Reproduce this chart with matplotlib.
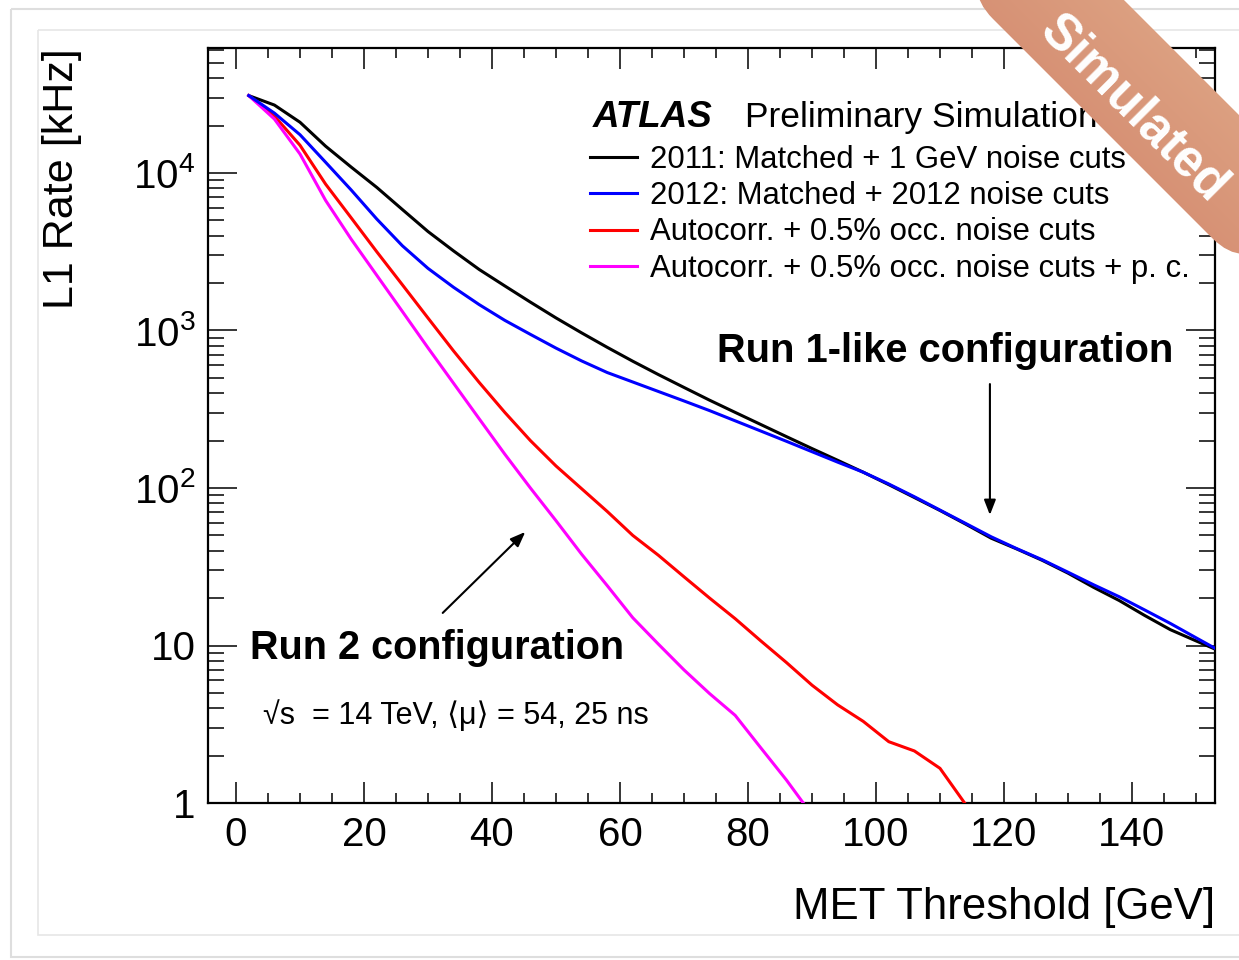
import numpy as np
import matplotlib
matplotlib.use("Agg")
import matplotlib.pyplot as plt
from matplotlib.ticker import FixedLocator, NullFormatter, FuncFormatter, LogLocator
from matplotlib.patches import FancyBboxPatch, Rectangle
from matplotlib.transforms import Affine2D

plt.rcParams['font.family'] = ['Liberation Sans', 'DejaVu Sans']
plt.rcParams['mathtext.fontset'] = 'custom'
plt.rcParams['mathtext.rm'] = 'Liberation Sans'
plt.rcParams['mathtext.it'] = 'Liberation Sans:italic'
plt.rcParams['mathtext.bf'] = 'Liberation Sans:bold'

# ---------------- data ----------------
met = [2, 6, 10, 14, 18, 22, 26, 30, 34, 38, 42, 46, 50, 54, 58, 62, 66, 70, 74, 78,
       82, 86, 90, 94, 98, 102, 106, 110, 114, 118, 122, 126, 130, 134, 138, 142, 146, 150, 154]

rate_2011 = [31000, 27000, 21000, 14800, 10900, 8100, 5860, 4250, 3200, 2440, 1919, 1514,
             1202, 966, 782, 638, 525, 435, 361, 302, 253, 212, 178, 150, 126, 105, 87, 72,
             59, 48, 41, 34.7, 28.8, 23.4, 19.3, 15.5, 12.6, 10.7, 9.1]

rate_2012 = [31000, 24000, 17500, 11700, 7800, 5100, 3450, 2480, 1880, 1460, 1160, 945,
             773, 641, 541, 471, 410, 357, 310, 267, 230, 198, 170, 146, 126, 106, 88, 72.4,
             59.6, 49, 41.2, 35, 29.2, 24.3, 20.4, 16.8, 13.8, 11.2, 9.1]

met_auto = [2, 6, 10, 14, 18, 22, 26, 30, 34, 38, 42, 46, 50, 54, 58, 62, 66, 70, 74, 78,
            82, 86, 90, 94, 98, 102, 106, 110, 114]
rate_auto = [31000, 23000, 15000, 8500, 5190, 3160, 1950, 1200, 741, 468, 302, 200, 138, 99,
             71, 50, 37.4, 27.3, 20, 14.8, 10.7, 7.8, 5.6, 4.2, 3.3, 2.45, 2.14, 1.66, 0.98]

met_pc = [2, 6, 10, 14, 18, 22, 26, 30, 34, 38, 42, 46, 50, 54, 58, 62, 66, 70, 74, 78, 82, 86, 90]
rate_pc = [31000, 22000, 13200, 6700, 3800, 2240, 1320, 776, 462, 275, 164, 100, 62, 38, 24,
           15, 10.2, 7.0, 4.95, 3.6, 2.24, 1.4, 0.84]

labels = ["2011: Matched + 1 GeV noise cuts",
          "2012: Matched + 2012 noise cuts",
          "Autocorr. + 0.5% occ. noise cuts",
          "Autocorr. + 0.5% occ. noise cuts + p. c."]
colors = ["black", "#0000ff", "#ff0000", "#ff00ff"]

xticks = [0, 20, 40, 60, 80, 100, 120, 140]
yticks = [1, 10, 100, 1000, 10000]

# ---------------- figure ----------------
W, H = 1239, 960
fig = plt.figure(figsize=(W / 100, H / 100), dpi=100)
fig.patch.set_facecolor('white')

ax_l, ax_r, ax_t, ax_b = 208, 1215, 48, 803
ax = fig.add_axes([ax_l / W, 1 - ax_b / H, (ax_r - ax_l) / W, (ax_b - ax_t) / H])

lw = 2.2
l1, = ax.plot(met, rate_2011, color=colors[0], lw=lw, label=labels[0], zorder=3)
l2, = ax.plot(met, rate_2012, color=colors[1], lw=lw, label=labels[1], zorder=4)
l3, = ax.plot(met_auto, rate_auto, color=colors[2], lw=lw, label=labels[2], zorder=3)
l4, = ax.plot(met_pc, rate_pc, color=colors[3], lw=lw, label=labels[3], zorder=3)

ax.set_yscale('log')
ax.set_xlim(-4.375, 152.97)
ax.set_ylim(1, 10 ** ((ax_b - ax_t) / 157.5))

ax.xaxis.set_major_locator(FixedLocator(xticks))
ax.xaxis.set_minor_locator(FixedLocator([v for v in range(0, 155, 5) if v % 20 != 0]))
ax.yaxis.set_major_locator(FixedLocator(yticks))
ax.yaxis.set_minor_locator(LogLocator(base=10, subs=np.arange(2, 10), numticks=20))
ax.yaxis.set_minor_formatter(NullFormatter())


def yfmt(v, pos):
    if v == 1:
        return "1"
    if v == 10:
        return "10"
    return r"$10^{%d}$" % int(round(np.log10(v)))


ax.yaxis.set_major_formatter(FuncFormatter(yfmt))

for s in ax.spines.values():
    s.set_linewidth(1.6)

ax.tick_params(which='both', direction='in', top=True, right=True, width=1.1)
ax.tick_params(axis='x', which='major', length=15, labelsize=29, pad=9.5)
ax.tick_params(axis='x', which='minor', length=7.5)
ax.tick_params(axis='y', which='major', length=21, labelsize=29, pad=9)
ax.tick_params(axis='y', which='minor', length=11.5)

ax.set_xlabel("MET Threshold [GeV]", fontsize=31.5, loc='right')
ax.xaxis.set_label_coords(1.0, (ax_b - 908) / (ax_b - ax_t))
ax.xaxis.label.set_va('center')
ax.set_ylabel("L1 Rate [kHz]", fontsize=31, loc='top')
ax.yaxis.set_label_coords((62 - ax_l) / (ax_r - ax_l), 1.0)
ax.yaxis.label.set_va('center')


def axx(px):
    return (px - ax_l) / (ax_r - ax_l)


def axy(py):
    return (ax_b - py) / (ax_b - ax_t)


# legend
leg = ax.legend(handles=[l1, l2, l3, l4], loc='upper left',
                bbox_to_anchor=(axx(590), axy(145)), frameon=False, fontsize=22.4,
                borderpad=0, borderaxespad=0, handlelength=1.52, handletextpad=0.4,
                labelspacing=0.2)

ax.text(axx(593), axy(127), "ATLAS", transform=ax.transAxes, fontsize=26.5,
        fontweight='bold', fontstyle='italic', va='baseline', ha='left')
ax.text(axx(745), axy(127), "Preliminary Simulation", transform=ax.transAxes,
        fontsize=25.5, va='baseline', ha='left')

ax.text(axx(717), axy(362), "Run 1-like configuration", transform=ax.transAxes,
        fontsize=28.7, fontweight='bold', va='baseline', ha='left')
ax.text(axx(250), axy(659), "Run 2 configuration", transform=ax.transAxes,
        fontsize=28.5, fontweight='bold', va='baseline', ha='left')
ax.text(axx(263), axy(724), "\u221As  = 14 TeV, \u27e8\u03bc\u27e9 = 54, 25 ns",
        transform=ax.transAxes, fontsize=22, va='baseline', ha='left',
        family=['Liberation Sans', 'DejaVu Sans'])

# arrows (data coordinates)
ax.annotate("", xy=(117.8, 67.4), xytext=(117.8, 457),
            arrowprops=dict(arrowstyle='-|>,head_length=0.9,head_width=0.35',
                            color='black', lw=1.5, shrinkA=0, shrinkB=0))
ax.annotate("", xy=(45.2, 52.6), xytext=(32.3, 16.1),
            arrowprops=dict(arrowstyle='-|>,head_length=0.9,head_width=0.35',
                            color='black', lw=1.5, shrinkA=0, shrinkB=0))

# ---------------- overlay (pixel coords) ----------------
ov = fig.add_axes([0, 0, 1, 1], zorder=10)
ov.set_xlim(0, W)
ov.set_ylim(H, 0)
ov.axis('off')
ov.patch.set_alpha(0)

# slide frame
ov.add_patch(Rectangle((38, 30), W, 905, fill=False, ec='#e6e6e6', lw=1.2))
ov.add_patch(Rectangle((11, 9), W, 948, fill=False, ec='#dedede', lw=1.5))

# "Simulated" banner
cx, cy = 1140, 91
L, Wb = 400, 106
band = FancyBboxPatch((cx - L / 2, cy - Wb / 2), L, Wb,
                      boxstyle="round,pad=0,rounding_size=45",
                      fc='none', ec='none')
band.set_transform(Affine2D().rotate_deg_around(cx, cy, 45) + ov.transData)
ov.add_patch(band)
gx, gy = np.meshgrid(np.linspace(960, W, 200), np.linspace(0, 280, 200))
g = (gx - gy)
g = (g - g.min()) / (g.max() - g.min())
c0 = np.array([0.80, 0.46, 0.37])
c1 = np.array([0.88, 0.67, 0.54])
img = c0[None, None, :] * (1 - g[..., None]) + c1[None, None, :] * g[..., None]
im = ov.imshow(img, extent=[960, W, 280, 0], origin='upper', zorder=11, aspect='auto')
im.set_clip_path(band)
ov.set_xlim(0, W)
ov.set_ylim(H, 0)
ov.text(1133, 109, "Simulated", color='white', fontsize=36.5, fontweight='bold',
        rotation=-45, ha='center', va='center', rotation_mode='anchor', zorder=12)

fig.savefig("out.png", dpi=100)
